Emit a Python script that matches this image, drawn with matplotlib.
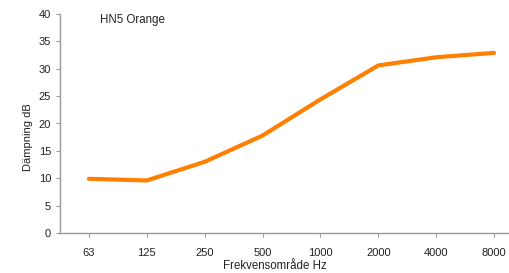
import matplotlib
matplotlib.use("Agg")
import matplotlib.pyplot as plt

plt.rcParams["font.family"] = ["Liberation Sans", "DejaVu Sans"]

freqs = ["63", "125", "250", "500", "1000", "2000", "4000", "8000"]
damping = [9.9, 9.6, 13.0, 17.8, 24.4, 30.6, 32.1, 32.9]

fig = plt.figure(figsize=(5.10, 2.73), dpi=100)
ax = fig.add_axes([60 / 510, 40 / 273, 463 / 510, 219 / 273])

ax.plot(range(len(freqs)), damping, color="#ff8000", lw=3.0, solid_capstyle="round")

ax.set_xlim(-0.5, len(freqs) - 0.5)
ax.set_ylim(0, 40)
ax.set_yticks(range(0, 41, 5))
ax.set_xticks(range(len(freqs)))
ax.set_xticklabels(freqs)

for side in ["top", "right"]:
    ax.spines[side].set_visible(False)
for side in ["left", "bottom"]:
    ax.spines[side].set_color("#999999")
    ax.spines[side].set_linewidth(1.0)
ax.tick_params(colors="#999999", labelcolor="#222222", labelsize=8, length=3)
ax.tick_params(axis="x", pad=8)

# axis titles placed in figure coords to match the original layout
fig.text(28 / 510, 136 / 273, "Dämpning dB", fontsize=8, color="#222222",
         rotation=90, ha="center", va="center")
fig.text(275 / 510, 1 / 273, "Frekvensområde Hz", fontsize=8.3,
         color="#222222", ha="center", va="bottom")
fig.text(100 / 510, 253 / 273, "HN5 Orange", fontsize=8.3, color="#222222",
         ha="left", va="center")

fig.savefig("out.png", dpi=100)
